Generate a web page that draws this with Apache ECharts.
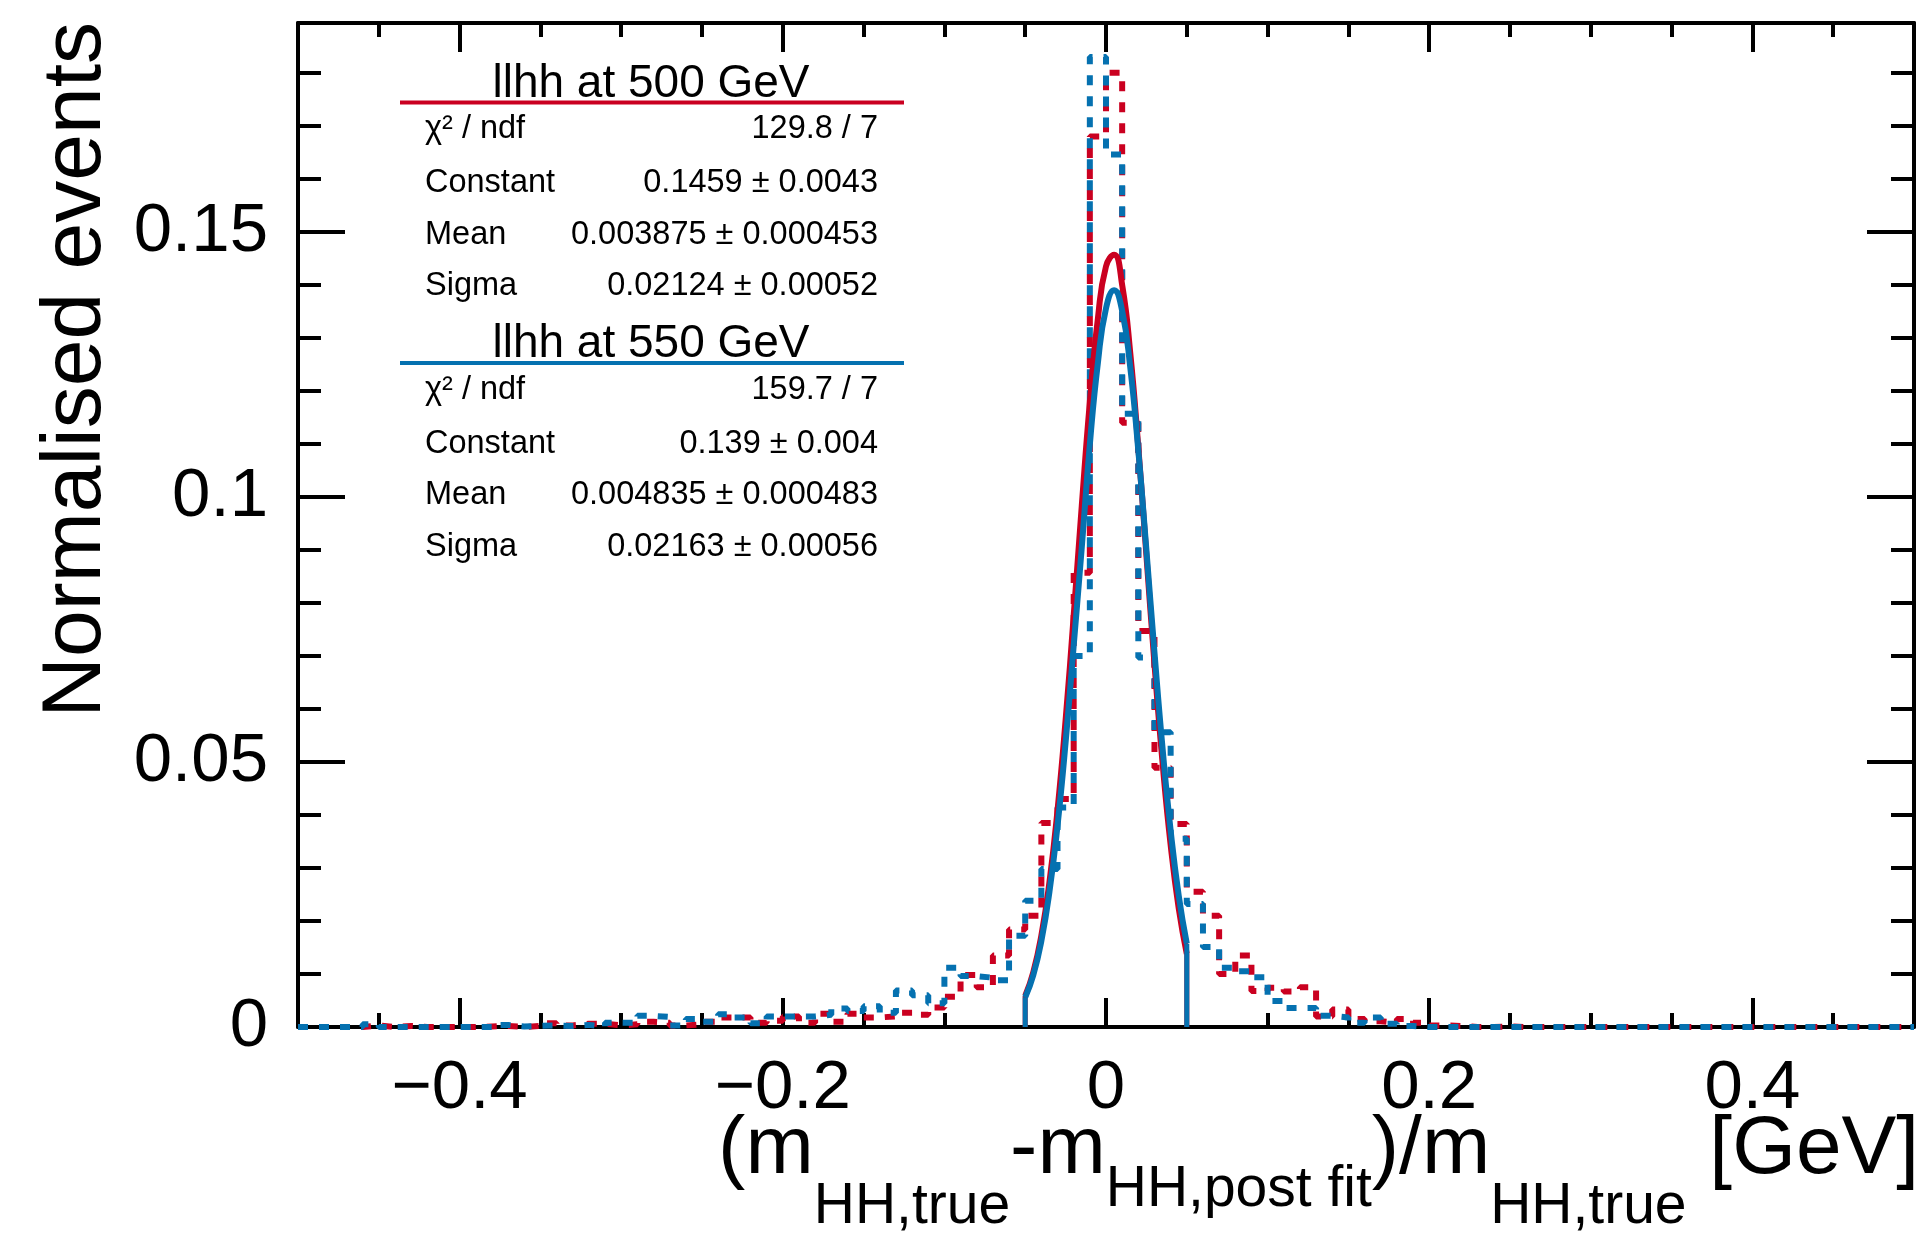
<!DOCTYPE html>
<html lang="en">
<head>
<meta charset="UTF-8"/>
<title>m_HH resolution, llhh at 500 / 550 GeV</title>
<script src="https://cdn.jsdelivr.net/npm/echarts@6/dist/echarts.min.js"></script>
<style>
    html, body { margin: 0; padding: 0; background: #ffffff; }
    #chart { width: 1920px; height: 1240px; }
</style>
</head>
<body>
<div id="chart"></div>
<script type="text/javascript">
// histogram binning: 100 bins of 0.01 between -0.5 and 0.5
var binLow = -0.5;
var binWidth = 0.01;

// llhh at 500 GeV (red), normalised bin contents
var red500 = [
    0, 0, 0, 0, 0.0003, 0, 0.0002, 0, 0, 0,
    0, 0.0001, 0.0002, 0, 0.0002, 0.0007, 0.0003, 0.0006, 0.0006, 0.0003,
    0.0005, 0.0010, 0.0008, 0.0003, 0.0005, 0.0010, 0.0018, 0.0018, 0.0008, 0.0012,
    0.0020, 0.0008, 0.0025, 0.0010, 0.0025, 0.0018, 0.0020, 0.0027, 0.0023, 0.0037,
    0.0057, 0.0098, 0.0075, 0.0135, 0.0184, 0.0210, 0.0385, 0.0430, 0.0857, 0.1680,
    0.1800, 0.1140, 0.0747, 0.0489, 0.0383, 0.0255, 0.0210, 0.0100, 0.0135, 0.0068,
    0.0074, 0.0067, 0.0075, 0.0020, 0.0033, 0.0015, 0.0011, 0.0008, 0.0015, 0.0008,
    0.0003, 0.0002, 0, 0, 0.0001, 0, 0, 0, 0, 0,
    0, 0, 0, 0, 0, 0, 0, 0, 0, 0,
    0, 0, 0, 0, 0, 0, 0, 0, 0, 0
];

// llhh at 550 GeV (blue), normalised bin contents
var blue550 = [
    0, 0, 0, 0, 0.0005, 0, 0, 0, 0, 0,
    0, 0, 0.0004, 0.0001, 0.0002, 0.0003, 0.0002, 0.0004, 0.0001, 0.0008,
    0.0008, 0.0021, 0.0019, 0.0003, 0.0015, 0.0010, 0.0024, 0.0018, 0.0007, 0.0020,
    0.0020, 0.0020, 0.0023, 0.0035, 0.0030, 0.0039, 0.0027, 0.0069, 0.0060, 0.0045,
    0.0112, 0.0096, 0.0093, 0.0088, 0.0172, 0.0238, 0.0298, 0.0414, 0.0700, 0.1830,
    0.1646, 0.1157, 0.0697, 0.0556, 0.0355, 0.0232, 0.0151, 0.0112, 0.0105, 0.0094,
    0.0049, 0.0036, 0.0036, 0.0021, 0.0018, 0.0008, 0.0018, 0.0006, 0.0002, 0,
    0, 0, 0, 0, 0, 0, 0, 0, 0, 0,
    0, 0, 0, 0, 0, 0, 0, 0, 0, 0,
    0, 0, 0, 0, 0, 0, 0, 0, 0, 0
];

// gaussian fits, read along the fit range [-0.05, 0.05]
var fitX = [-0.05, -0.045, -0.04, -0.035, -0.03, -0.025, -0.02, -0.015, -0.01, -0.005, 0,
            0.005, 0.01, 0.015, 0.02, 0.025, 0.03, 0.035, 0.04, 0.045, 0.05];
var fitRed500 = [0.00585, 0.01033, 0.01727, 0.02733, 0.04090, 0.05791, 0.07757, 0.09830, 0.11786, 0.13370, 0.14349,
                 0.14570, 0.13996, 0.12720, 0.10937, 0.08897, 0.06847, 0.04986, 0.03435, 0.02239, 0.01380];
var fitBlue550 = [0.00559, 0.00978, 0.01622, 0.02550, 0.03800, 0.05369, 0.07191, 0.09046, 0.10987, 0.12535, 0.13557,
                  0.13900, 0.13509, 0.12447, 0.10871, 0.09001, 0.07065, 0.05256, 0.03707, 0.02479, 0.01572];

// axis ticks
var xMajorTicks = [-0.4, -0.2, 0, 0.2, 0.4];
var xMinorTicks = [-0.5, -0.45, -0.4, -0.35, -0.3, -0.25, -0.2, -0.15, -0.1, -0.05, 0,
                   0.05, 0.1, 0.15, 0.2, 0.25, 0.3, 0.35, 0.4, 0.45, 0.5];
var yMajorTicks = [0, 0.05, 0.1, 0.15];
var yMinorTicks = [0, 0.01, 0.02, 0.03, 0.04, 0.05, 0.06, 0.07, 0.08, 0.09, 0.1,
                   0.11, 0.12, 0.13, 0.14, 0.15, 0.16, 0.17, 0.18];

// fit boxes
var stats500 = [['\u03c7\u00b2 / ndf', '129.8 / 7'], ['Constant', '0.1459 \u00b1 0.0043'],
                ['Mean', '0.003875 \u00b1 0.000453'], ['Sigma', '0.02124 \u00b1 0.00052']];
var stats550 = [['\u03c7\u00b2 / ndf', '159.7 / 7'], ['Constant', '0.139 \u00b1 0.004'],
                ['Mean', '0.004835 \u00b1 0.000483'], ['Sigma', '0.02163 \u00b1 0.00056']];

// x title pieces: text, 0 = normal, 1 = subscript, 2 = raised subscript
var xTitleParts = [['(m', 0], ['HH,true', 1], ['-m', 0], ['HH,post fit', 2], [')/m', 0], ['HH,true', 1], [' [GeV]', 0]];

var FONT = "'Liberation Sans', Arial, Helvetica, sans-serif";
var RED = '#ca0020';
var BLUE = '#0571b0';

function histPoints(vals) {
    var pts = [];
    for (var i = 0; i < vals.length; i++) {
        pts.push([+(binLow + i * binWidth).toFixed(2), vals[i]]);
    }
    // closing edge of the last bin
    pts.push([+(binLow + vals.length * binWidth).toFixed(2), vals[vals.length - 1]]);
    return pts;
}

function fitPoints(vals) {
    return fitX.map(function (x, i) { return [x, vals[i]]; });
}

function xAxisDef(position, ticks, len, withLine, withLabel) {
    return {
        type: 'value', position: position, min: -0.5, max: 0.5,
        axisLine: { show: withLine, onZero: false, lineStyle: { color: '#000', width: 4 } },
        axisTick: { show: true, inside: true, length: len, customValues: ticks,
                    lineStyle: { color: '#000', width: 4 } },
        axisLabel: withLabel ? {
            show: true, customValues: ticks, margin: 27, color: '#000',
            fontFamily: FONT, fontSize: 69,
            formatter: function (v) { return v === 0 ? '0' : String(v).replace('-', '\u2212'); }
        } : { show: false },
        splitLine: { show: false }
    };
}

function yAxisDef(position, ticks, len, withLine, withLabel) {
    return {
        type: 'value', position: position, min: 0, max: 0.1894,
        axisLine: { show: withLine, onZero: false, lineStyle: { color: '#000', width: 4 } },
        axisTick: { show: true, inside: true, length: len, customValues: ticks,
                    lineStyle: { color: '#000', width: 4 } },
        axisLabel: withLabel ? {
            show: true, customValues: ticks, margin: 30, color: '#000',
            fontFamily: FONT, fontSize: 69,
            formatter: function (v) { return String(v); }
        } : { show: false },
        splitLine: { show: false }
    };
}

function statsBox(title, color, rows, dy) {
    var els = [];
    els.push({
        type: 'text', x: 651, y: 84 + dy, silent: true,
        style: { text: title, fontFamily: FONT, fontSize: 46, fill: '#000',
                 align: 'center', verticalAlign: 'middle' }
    });
    els.push({
        type: 'line', silent: true,
        shape: { x1: 400, y1: 102.5 + dy, x2: 904, y2: 102.5 + dy },
        style: { stroke: color, lineWidth: 4 }
    });
    var rowY = [129.5, 183.5, 235, 286.5];
    rows.forEach(function (r, i) {
        els.push({
            type: 'text', x: 425, y: rowY[i] + dy, silent: true,
            style: { text: r[0], fontFamily: FONT, fontSize: 32.5, fill: '#000',
                     align: 'left', verticalAlign: 'middle' }
        });
        els.push({
            type: 'text', x: 878, y: rowY[i] + dy, silent: true,
            style: { text: r[1], fontFamily: FONT, fontSize: 32.5, fill: '#000',
                     align: 'right', verticalAlign: 'middle' }
        });
    });
    return els;
}

// x title laid out piece by piece so the subscripts sit lower
function xTitle(parts, right, mainSize, subSize, levels) {
    var ctx = document.createElement('canvas').getContext('2d');
    var widths = parts.map(function (p) {
        ctx.font = (p[1] ? subSize : mainSize) + "px 'Liberation Sans'";
        return ctx.measureText(p[0]).width;
    });
    var total = widths.reduce(function (a, b) { return a + b; }, 0);
    var x = right - total;
    var els = [];
    parts.forEach(function (p, i) {
        els.push({
            type: 'text', x: x, y: levels[p[1]], silent: true,
            style: { text: p[0], fontFamily: FONT, fontSize: p[1] ? subSize : mainSize,
                     fill: '#000', align: 'left', verticalAlign: 'middle' }
        });
        x += widths[i];
    });
    return els;
}

var chart = echarts.init(document.getElementById('chart'));

var graphics = [];
graphics = graphics.concat(statsBox('llhh at 500 GeV', RED, stats500, 0));
graphics = graphics.concat(statsBox('llhh at 550 GeV', BLUE, stats550, 260.5));

// y axis title
graphics.push({
    type: 'text', x: 77, y: 22, rotation: Math.PI / 2, silent: true,
    style: { text: 'Normalised events', fontFamily: FONT, fontSize: 84, fill: '#000',
             align: 'right', verticalAlign: 'middle' }
});

// x axis title with subscripts
graphics = graphics.concat(xTitle(xTitleParts, 1919, 82, 57, [1150, 1207, 1190]));

var option = {
    animation: false,
    backgroundColor: '#ffffff',
    textStyle: { fontFamily: FONT },
    grid: { left: 298, right: 6, top: 23, bottom: 213, containLabel: false },
    xAxis: [
        xAxisDef('bottom', xMajorTicks, 29, true, true),
        xAxisDef('bottom', xMinorTicks, 14, false, false),
        xAxisDef('top', xMajorTicks, 29, true, false),
        xAxisDef('top', xMinorTicks, 14, false, false)
    ],
    yAxis: [
        yAxisDef('left', yMajorTicks, 47, true, true),
        yAxisDef('left', yMinorTicks, 23, false, false),
        yAxisDef('right', yMajorTicks, 47, true, false),
        yAxisDef('right', yMinorTicks, 23, false, false)
    ],
    series: [
        {
            name: 'llhh at 500 GeV', type: 'line', step: 'end', data: histPoints(red500),
            symbol: 'none', silent: true, z: 2,
            lineStyle: { color: RED, width: 6, type: [10, 11], cap: 'butt' }
        },
        {
            name: 'llhh at 550 GeV', type: 'line', step: 'end', data: histPoints(blue550),
            symbol: 'none', silent: true, z: 3,
            lineStyle: { color: BLUE, width: 6, type: [10, 11], cap: 'butt' }
        },
        {
            name: 'fit 500', type: 'line', data: fitPoints(fitRed500), smooth: true,
            symbol: 'none', silent: true, z: 4,
            lineStyle: { color: RED, width: 6 }
        },
        {
            name: 'fit 500 ends', type: 'line', symbol: 'none', silent: true, z: 4,
            data: [[fitX[0], 0], [fitX[0], fitRed500[0]], '-',
                   [fitX[fitX.length - 1], fitRed500[fitRed500.length - 1]], [fitX[fitX.length - 1], 0]],
            lineStyle: { color: RED, width: 5 }
        },
        {
            name: 'fit 550', type: 'line', data: fitPoints(fitBlue550), smooth: true,
            symbol: 'none', silent: true, z: 5,
            lineStyle: { color: BLUE, width: 6 }
        },
        {
            name: 'fit 550 ends', type: 'line', symbol: 'none', silent: true, z: 5,
            data: [[fitX[0], 0], [fitX[0], fitBlue550[0]], '-',
                   [fitX[fitX.length - 1], fitBlue550[fitBlue550.length - 1]], [fitX[fitX.length - 1], 0]],
            lineStyle: { color: BLUE, width: 5 }
        }
    ],
    graphic: graphics
};

chart.setOption(option);
</script>
</body>
</html>
